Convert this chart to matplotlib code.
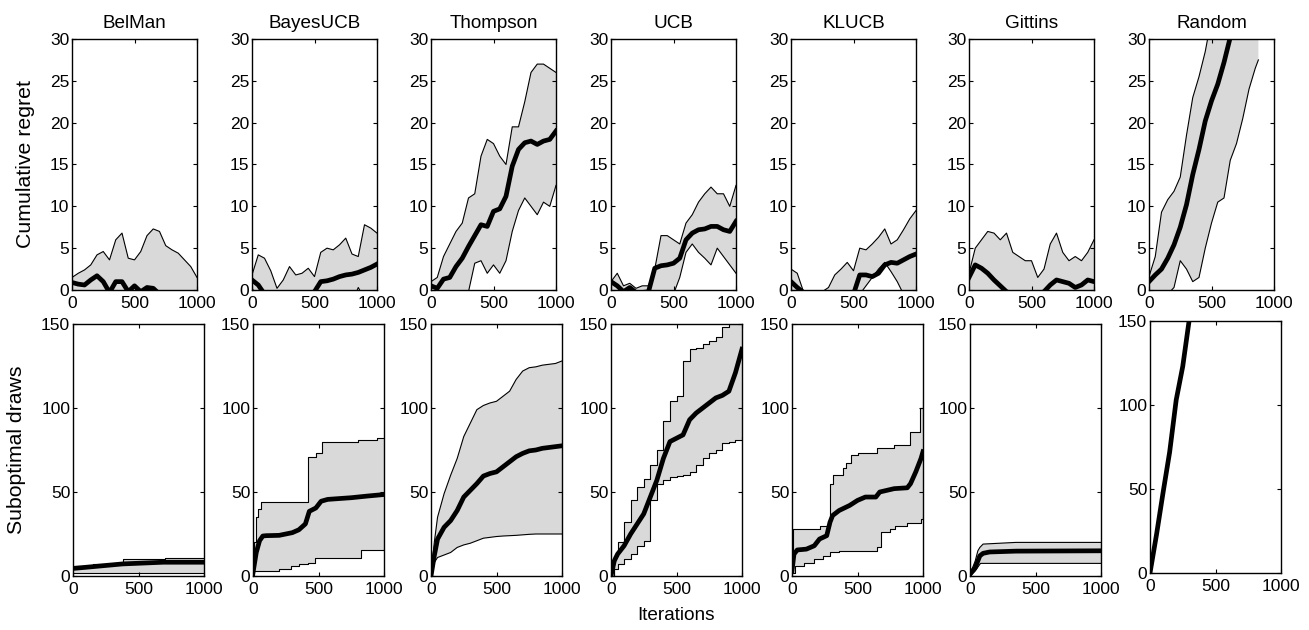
import matplotlib
matplotlib.use("Agg")
import matplotlib.pyplot as plt

plt.rcParams["font.family"] = ["Liberation Sans", "DejaVu Sans"]

methods = ["BelMan", "BayesUCB", "Thompson", "UCB", "KLUCB", "Gittins", "Random"]

# ---------- top row: cumulative regret (mean, upper, lower), read every 50 iterations ----------
reg_x = list(range(0, 1001, 50))

belman_reg_mean = [0.9, 0.7, 0.6, 1.2, 1.7, 1.0, -0.3, 1.0, 1.0, -0.2, 0.5, -0.2, 0.3, 0.2, -0.5, -0.8, -1.0, -1.2, -1.3, -1.5, -1.5]
belman_reg_up = [1.5, 2.0, 2.4, 3.0, 4.2, 4.6, 3.6, 6.0, 6.8, 3.8, 3.6, 4.6, 6.5, 7.3, 7.0, 5.3, 4.8, 4.4, 3.6, 2.8, 1.5]
belman_reg_lo = [-0.5, -1.5, -2.0, -2.0, -1.5, -2.5, -3.5, -3.0, -3.0, -4.0, -3.5, -4.5, -4.0, -4.5, -5.5, -5.5, -6.0, -5.5, -5.5, -6.0, -6.0]

bayes_reg_mean = [1.2, 0.6, -0.5, -0.8, -1.0, -1.0, -0.8, -0.8, -0.7, -0.5, -0.2, 1.0, 1.1, 1.3, 1.6, 1.8, 1.9, 2.1, 2.4, 2.7, 3.1]
bayes_reg_up = [1.8, 4.2, 3.8, 2.3, 0.2, 1.2, 2.8, 1.8, 2.0, 2.6, 1.6, 4.5, 5.0, 4.8, 5.4, 6.2, 4.3, 4.0, 7.8, 7.4, 6.8]
bayes_reg_lo = [0.3, -1.5, -3.0, -3.5, -4.0, -4.0, -4.5, -4.0, -4.0, -4.0, -3.5, -3.0, -3.0, -2.5, -2.5, -2.0, -1.5, 0.3, -1.0, -1.5, -1.5]

thompson_reg_mean = [0.5, 0.2, 1.3, 1.5, 2.8, 3.8, 5.2, 6.5, 7.8, 7.6, 9.4, 9.7, 11.2, 14.8, 16.8, 17.6, 17.8, 17.4, 17.8, 18.0, 19.0]
thompson_reg_up = [1.0, 1.5, 4.0, 5.5, 7.0, 8.0, 11.0, 11.5, 16.0, 18.0, 17.5, 16.0, 15.0, 19.5, 19.5, 22.5, 26.0, 27.0, 27.0, 26.5, 26.0]
thompson_reg_lo = [-1.0, -3.0, -5.0, -5.0, -4.0, -2.0, -0.2, 3.2, 3.5, 2.0, 3.0, 2.0, 3.5, 7.0, 9.5, 11.0, 10.0, 9.0, 10.5, 10.0, 12.5]

ucb_reg_mean = [1.0, 0.5, -0.2, 0.3, -0.3, -0.3, -0.2, 2.6, 2.9, 3.0, 3.2, 3.8, 6.0, 6.8, 7.2, 7.3, 7.6, 7.6, 7.2, 7.0, 8.2]
ucb_reg_up = [1.0, 2.0, 0.5, 0.8, 0.2, 0.5, 0.5, 2.5, 6.5, 6.5, 6.0, 5.5, 8.0, 9.0, 10.5, 11.5, 12.3, 11.5, 11.5, 10.0, 12.5]
ucb_reg_lo = [-1.0, -2.0, -3.0, -3.0, -3.5, -3.5, -3.0, -2.5, -2.0, -1.5, -0.5, 1.5, 4.5, 5.5, 4.5, 3.8, 3.0, 5.0, 4.0, 3.0, 2.0]

klucb_reg_mean = [1.0, 0.3, -0.3, -0.5, -0.5, -0.5, -0.6, -0.6, -0.6, -0.6, -0.5, 1.8, 1.8, 1.6, 2.0, 3.0, 3.3, 3.2, 3.6, 4.0, 4.3]
klucb_reg_up = [2.5, 2.0, -0.2, -0.2, -0.2, -0.2, 0.3, 1.8, 2.5, 3.3, 2.3, 5.0, 4.8, 5.5, 6.3, 7.3, 5.5, 6.0, 7.2, 8.5, 9.5]
klucb_reg_lo = [-0.5, -1.5, -2.0, -2.5, -2.5, -3.0, -3.0, -3.0, -3.0, -3.0, -2.0, -0.5, 0.5, 1.5, 2.5, 3.3, 2.2, 1.0, -0.5, -1.0, -1.0]

gittins_reg_mean = [1.5, 3.0, 2.6, 2.0, 1.2, 0.5, -0.2, -0.5, -0.6, -0.8, -0.8, -0.5, -0.2, 0.6, 1.2, 1.0, 0.8, 0.3, 0.6, 1.2, 1.0]
gittins_reg_up = [2.0, 5.0, 6.0, 7.0, 6.8, 6.0, 6.8, 4.5, 4.0, 3.5, 3.5, 1.5, 2.5, 5.5, 6.8, 4.5, 3.5, 4.0, 3.5, 4.5, 6.0]
gittins_reg_lo = [0.0, -1.0, -2.0, -3.0, -3.5, -4.0, -4.5, -5.0, -5.0, -5.5, -5.5, -6.0, -5.5, -5.0, -5.5, -5.0, -5.0, -5.5, -5.5, -5.0, -5.0]

random_reg_x = list(range(0, 851, 50)) + [875]
random_reg_mean = [1.0, 1.8, 2.5, 3.8, 5.4, 7.5, 10.2, 13.8, 16.8, 20.2, 22.6, 24.6, 27.2, 30.2, 32.5, 35.0, 37.0, 39.0, 40.0]
random_reg_up = [1.6, 4.0, 9.3, 10.8, 11.8, 13.5, 18.5, 23.0, 25.5, 28.5, 32.5, 35.5, 38.0, 40.0, 42.5, 45.0, 47.0, 49.0, 50.0]
random_reg_lo = [-0.5, -1.0, -0.5, -0.5, 0.3, 3.5, 2.5, 1.0, 1.5, 5.0, 8.0, 10.5, 11.0, 15.5, 17.5, 20.5, 24.0, 26.5, 27.5]

# ---------- bottom row: suboptimal draws ----------
belman_dr_mean_x = [0, 100, 380, 690, 1000]
belman_dr_mean = [4.5, 5.2, 7.2, 8.2, 8.2]
belman_dr_up_x = [0, 150, 380, 700, 1000]
belman_dr_up = [6, 7, 10, 11, 11]
belman_dr_lo_x = [0, 1000]
belman_dr_lo = [1.5, 1.5]

bayes_dr_mean_x = [0, 25, 50, 75, 100, 200, 300, 350, 400, 430, 480, 520, 570, 750, 875, 1000]
bayes_dr_mean = [2, 14, 21, 23.8, 24, 24.2, 25.8, 27.5, 31, 38.5, 40.5, 44.5, 45.6, 46.6, 47.6, 48.5]
bayes_dr_up_x = [0, 10, 20, 40, 60, 420, 480, 530, 800, 950, 1000]
bayes_dr_up = [2, 20, 35, 40, 44, 71, 73, 80, 81, 82, 82]
bayes_dr_lo_x = [0, 5, 200, 290, 350, 420, 470, 825, 1000]
bayes_dr_lo = [0, 3, 4, 6, 7, 8, 10.5, 15.5, 16]

thompson_dr_x = [0, 25, 50, 100, 150, 200, 250, 300, 350, 400, 450, 500, 550, 600, 650, 700, 750, 800, 850, 900, 950, 1000]
thompson_dr_mean = [0, 12, 22, 29, 33, 39, 47, 51, 55, 59.5, 61, 62, 65, 68, 71, 73, 74.5, 75, 76, 76.5, 77, 77.5]
thompson_dr_up = [0, 20, 35, 49, 60, 70, 83, 91, 99, 101.5, 103, 104, 107, 110, 117, 122, 124, 124.5, 125.5, 126, 126.5, 128]
thompson_dr_lo = [0, 8, 11, 12.5, 14, 17, 18.5, 19.5, 21, 22.5, 23, 23.5, 23.8, 24, 24.2, 24.5, 24.8, 25, 25, 25, 25, 25]

ucb_dr_x = [0, 25, 50, 100, 150, 200, 250, 300, 350, 400, 450, 500, 550, 600, 650, 700, 750, 800, 850, 900, 950, 1000]
ucb_dr_mean = [0, 9, 13, 18, 25, 31, 37, 47, 57, 70, 80, 82, 84, 93, 97, 100, 103, 106, 107.5, 110, 121, 135]
ucb_dr_up = [0, 12, 20, 32, 45, 53, 58, 66, 75, 92, 104, 107, 128, 135, 136, 138, 140, 142, 148, 152, 155, 158]
ucb_dr_lo = [0, 4, 7, 10, 13, 18, 21, 45, 55, 57, 59, 59.5, 60, 62, 66, 70, 73, 75, 79, 80, 81, 83]

klucb_dr_mean_x = [0, 15, 40, 110, 170, 210, 265, 290, 310, 360, 440, 500, 560, 640, 670, 780, 880, 905, 945, 985, 1000]
klucb_dr_mean = [3, 13, 15.5, 16, 18, 22, 24, 32, 36, 39, 42, 45, 47, 47, 50, 52, 52.5, 55, 62, 70, 74]
klucb_dr_up_x = [0, 10, 210, 290, 310, 390, 410, 450, 500, 650, 780, 900, 980, 1000]
klucb_dr_up = [5, 28, 30, 55, 60, 64, 67, 72, 73, 76, 78, 86, 100, 105]
klucb_dr_lo_x = [0, 25, 95, 165, 235, 290, 360, 650, 680, 750, 790, 880, 985, 1000]
klucb_dr_lo = [2, 6, 8, 10, 12, 14, 15, 17, 26, 28, 30, 31.5, 34, 35]

gittins_dr_mean_x = [0, 20, 40, 60, 75, 100, 150, 350, 1000]
gittins_dr_mean = [1, 3, 5, 9, 12, 13.5, 14.3, 14.8, 15]
gittins_dr_up_x = [0, 20, 40, 60, 75, 100, 350, 1000]
gittins_dr_up = [2, 5, 9, 15, 17, 19, 20, 20]
gittins_dr_lo_x = [0, 40, 80, 1000]
gittins_dr_lo = [0, 3, 7.5, 7.5]

random_dr_x = [0, 50, 100, 150, 200, 250, 300, 350, 400, 500, 600, 700, 800, 875]
random_dr_mean = [0, 23, 48, 72, 103, 123, 151, 176, 201, 251, 300, 350, 399, 437]
random_dr_up = [1, 25, 50, 74, 105, 125, 153, 178, 203, 253, 302, 352, 401, 439]
random_dr_lo = [0, 21, 46, 70, 101, 121, 149, 174, 199, 249, 298, 348, 397, 435]

# (x, mean, up, lo) per panel; bottom row has separate x per series + step flag
top_panels = [
    (reg_x, belman_reg_mean, belman_reg_up, belman_reg_lo),
    (reg_x, bayes_reg_mean, bayes_reg_up, bayes_reg_lo),
    (reg_x, thompson_reg_mean, thompson_reg_up, thompson_reg_lo),
    (reg_x, ucb_reg_mean, ucb_reg_up, ucb_reg_lo),
    (reg_x, klucb_reg_mean, klucb_reg_up, klucb_reg_lo),
    (reg_x, gittins_reg_mean, gittins_reg_up, gittins_reg_lo),
    (random_reg_x, random_reg_mean, random_reg_up, random_reg_lo),
]
bottom_panels = [
    ((belman_dr_mean_x, belman_dr_mean), (belman_dr_up_x, belman_dr_up), (belman_dr_lo_x, belman_dr_lo), True),
    ((bayes_dr_mean_x, bayes_dr_mean), (bayes_dr_up_x, bayes_dr_up), (bayes_dr_lo_x, bayes_dr_lo), True),
    ((thompson_dr_x, thompson_dr_mean), (thompson_dr_x, thompson_dr_up), (thompson_dr_x, thompson_dr_lo), False),
    ((ucb_dr_x, ucb_dr_mean), (ucb_dr_x, ucb_dr_up), (ucb_dr_x, ucb_dr_lo), True),
    ((klucb_dr_mean_x, klucb_dr_mean), (klucb_dr_up_x, klucb_dr_up), (klucb_dr_lo_x, klucb_dr_lo), True),
    ((gittins_dr_mean_x, gittins_dr_mean), (gittins_dr_up_x, gittins_dr_up), (gittins_dr_lo_x, gittins_dr_lo), False),
    ((random_dr_x, random_dr_mean), (random_dr_x, random_dr_up), (random_dr_x, random_dr_lo), False),
]

W, H = 1309, 630
GRAY = "#d9d9d9"


def stairs(x, y):
    xs, ys = [x[0]], [y[0]]
    for i in range(1, len(x)):
        xs += [x[i], x[i]]
        ys += [y[i - 1], y[i]]
    return xs, ys


def style(ax, ymax, ystep):
    ax.set_xlim(0, 1000)
    ax.set_ylim(0, ymax)
    ax.set_xticks([0, 500, 1000])
    ax.set_yticks(range(0, ymax + 1, ystep))
    ax.tick_params(direction="in", top=True, right=True, length=3, width=0.8,
                   labelsize=12.5)
    ax.tick_params(axis="x", pad=4)
    ax.tick_params(axis="y", pad=2)
    for s in ax.spines.values():
        s.set_linewidth(1.0)


def draw(ax, mean, up, lo, step):
    if step:
        ux, uy = stairs(*up)
        lx, ly = stairs(*lo)
    else:
        ux, uy = list(up[0]), list(up[1])
        lx, ly = list(lo[0]), list(lo[1])
    ax.fill(ux + lx[::-1], uy + ly[::-1], color=GRAY, lw=0, zorder=1)
    ax.plot(ux, uy, color="black", lw=0.8, zorder=2)
    ax.plot(lx, ly, color="black", lw=0.8, zorder=2)
    ax.plot(mean[0], mean[1], color="black", lw=3.4, zorder=3,
            solid_joinstyle="round")


fig = plt.figure(figsize=(W / 100, H / 100), dpi=100)

top_left = [72, 252, 431, 611, 791, 969, 1149]
bot_left = [73, 253, 431, 611, 792, 970, 1150]

for i, name in enumerate(methods):
    l = top_left[i]
    ax = fig.add_axes([l / W, 1 - 290 / H, 125 / W, 251 / H])
    x, m, u, lo = top_panels[i]
    draw(ax, (x, m), (x, u), (x, lo), False)
    style(ax, 30, 5)
    ax.set_title(name, fontsize=13.6, pad=8)

    l = bot_left[i]
    top_px, bot_px = (321, 573) if name == "Random" else (324, 576)
    ax2 = fig.add_axes([l / W, 1 - bot_px / H, 131 / W, (bot_px - top_px) / H])
    m, u, lo, step = bottom_panels[i]
    draw(ax2, m, u, lo, step)
    style(ax2, 150, 50)

fig.text(26 / W, 1 - 164 / H, "Cumulative regret", rotation=90,
         ha="center", va="center", fontsize=15.3)
fig.text(17 / W, 1 - 450 / H, "Suboptimal draws", rotation=90,
         ha="center", va="center", fontsize=15.3)
fig.text(676 / W, 1 - 616 / H, "Iterations", ha="center", va="center",
         fontsize=13.7)

fig.savefig("out.png", dpi=100)
